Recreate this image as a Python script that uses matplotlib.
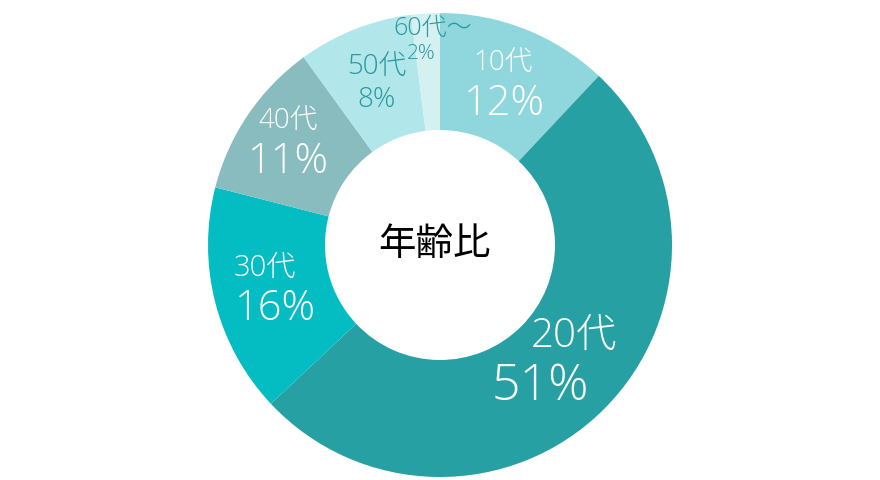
import numpy as np
import matplotlib.pyplot as plt

plt.rcParams['font.family'] = ['Open Sans', 'Noto Sans CJK JP', 'DejaVu Sans']

# データ
categories = ['10代', '20代', '30代', '40代', '50代', '60代～']
shares = [12, 51, 16, 11, 8, 2]
colors = ['#8fd7dc', '#26a0a3', '#04bdc3', '#88bcbe', '#b1e7eb', '#d5f0f0']
center_label = '年齢比'

# ラベルの見た目
text_colors = ['white', 'white', 'white', 'white', '#2a99a0', '#2a99a0']
cat_sizes = [20, 29, 21, 20, 20, 18]
pct_sizes = [30, 36, 30, 30, 20, 15]
label_r = [173, 165, 175, 184, 173, 204]
cat_dy = [20, 25, 20, 20, 16, 13]
cat_dx = [-1, 17, -6, 0, 0, 5]
pct_dx = [1, -16, 5, 1, 0, -6]

R_OUT = 232
R_IN = 115

fig = plt.figure(figsize=(8.8, 4.8), dpi=100)
ax = fig.add_axes([0, 0, 1, 1])

wedges, _ = ax.pie(shares, colors=colors, startangle=90, counterclock=False,
                   radius=R_OUT, center=(0, 0), frame=True,
                   wedgeprops=dict(width=R_OUT - R_IN, linewidth=0))
ax.set_xlim(-440, 440)
ax.set_ylim(-235, 245)
ax.set_aspect('equal')
ax.axis('off')

for i, w in enumerate(wedges):
    mid = np.deg2rad((w.theta1 + w.theta2) / 2)
    x = label_r[i] * np.cos(mid)
    y = label_r[i] * np.sin(mid)
    ax.text(x + cat_dx[i], y + cat_dy[i], categories[i], ha='center', va='center',
            fontsize=cat_sizes[i], color=text_colors[i], fontweight='light')
    ax.text(x + pct_dx[i], y - cat_dy[i], '{}%'.format(shares[i]), ha='center',
            va='center', fontsize=pct_sizes[i], color=text_colors[i],
            fontweight='light')

ax.text(-6, 0, center_label, ha='center', va='center', fontsize=27,
        color='black', family=['Noto Sans CJK JP'])

plt.savefig('out.png', dpi=100)
